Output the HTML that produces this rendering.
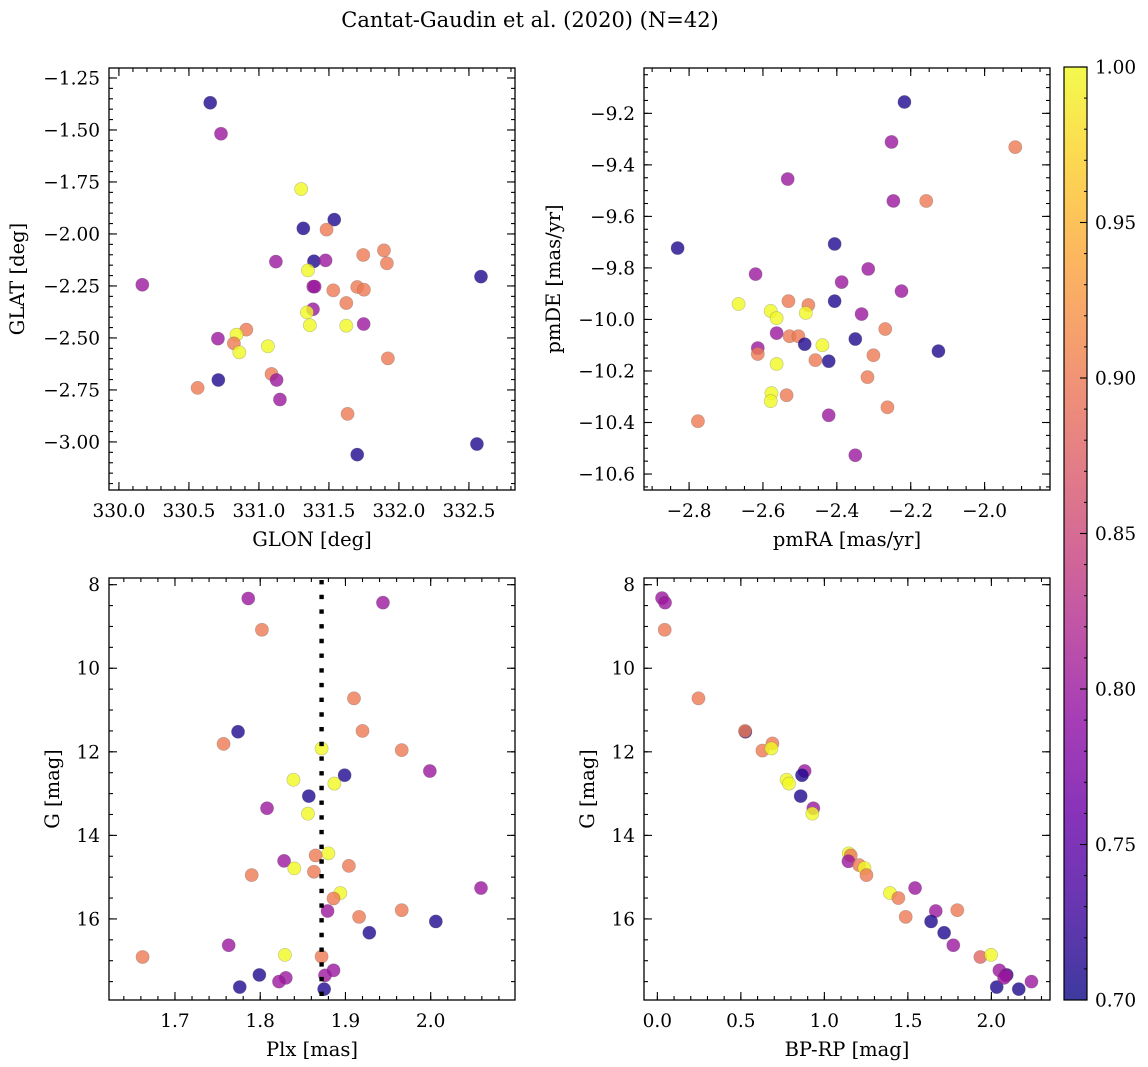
<!DOCTYPE html>
<html><head><meta charset="utf-8">
<style>
html,body{margin:0;padding:0;background:#fff;}
svg{display:block;font-family:"DejaVu Serif","Liberation Serif",serif;}
</style></head>
<body>
<svg id="fig" width="1148" height="1067" viewBox="0 0 1148 1067" xmlns="http://www.w3.org/2000/svg">
<text x="530" y="27" font-size="21" text-anchor="middle">Cantat-Gaudin et al. (2020) (N=42)</text>
</svg>
<script>
// ---- Panel 1: GLON / GLAT ----
const glon = [330.652,330.729,331.302,331.538,331.317,331.483,331.745,331.893,331.914,331.121,331.393,331.476,331.350,330.167,331.388,331.398,331.531,331.702,331.750,331.624,332.586,331.386,331.343,331.364,331.624,331.748,330.910,330.840,330.707,330.821,330.860,331.064,331.921,330.710,330.562,331.090,331.126,331.150,331.633,332.557,331.702];
const glat = [-1.369,-1.518,-1.784,-1.931,-1.973,-1.979,-2.101,-2.079,-2.141,-2.133,-2.131,-2.127,-2.175,-2.244,-2.253,-2.253,-2.271,-2.255,-2.268,-2.332,-2.205,-2.362,-2.377,-2.439,-2.441,-2.433,-2.460,-2.484,-2.503,-2.526,-2.569,-2.540,-2.598,-2.702,-2.740,-2.673,-2.702,-2.796,-2.865,-3.010,-3.061];
const prob1 = [0.71,0.8,1,0.71,0.71,0.9,0.9,0.9,0.9,0.8,0.71,0.8,1,0.8,0.8,0.8,0.9,0.9,0.9,0.9,0.71,0.8,1,1,1,0.8,0.9,1,0.8,0.9,1,1,0.9,0.71,0.9,0.9,0.8,0.8,0.9,0.71,0.71];
// ---- Panel 2: pmRA / pmDE ----
const pmra = [-2.217,-2.252,-1.917,-2.533,-2.247,-2.158,-2.831,-2.406,-2.620,-2.315,-2.387,-2.225,-2.666,-2.531,-2.477,-2.406,-2.579,-2.563,-2.484,-2.333,-2.269,-2.563,-2.528,-2.504,-2.487,-2.439,-2.350,-2.125,-2.614,-2.614,-2.563,-2.458,-2.422,-2.301,-2.317,-2.577,-2.579,-2.536,-2.263,-2.776,-2.422,-2.350];
const pmde = [-9.156,-9.311,-9.331,-9.455,-9.540,-9.540,-9.723,-9.707,-9.824,-9.804,-9.855,-9.890,-9.940,-9.929,-9.944,-9.929,-9.967,-9.995,-9.975,-9.979,-10.037,-10.053,-10.065,-10.065,-10.096,-10.100,-10.076,-10.123,-10.111,-10.134,-10.173,-10.158,-10.162,-10.139,-10.224,-10.286,-10.317,-10.294,-10.341,-10.395,-10.372,-10.527];
const prob2 = [0.71,0.8,0.9,0.8,0.8,0.9,0.71,0.71,0.8,0.8,0.8,0.8,1,0.9,0.9,0.71,1,1,1,0.8,0.9,0.8,0.9,0.9,0.71,1,0.71,0.71,0.8,0.9,1,0.9,0.71,0.9,0.9,1,1,0.9,0.9,0.9,0.8,0.8];
// ---- Panel 3: Plx / G ----
const plx = [1.786,1.944,1.802,1.910,1.920,1.774,1.757,1.872,1.966,1.999,1.899,1.839,1.887,1.857,1.808,1.856,1.880,1.865,1.828,1.840,1.904,1.863,1.790,2.059,1.894,1.886,1.879,1.966,1.916,2.006,1.928,1.763,1.662,1.829,1.872,1.886,1.799,1.830,1.822,1.876,1.776,1.875];
const gmag3 = [8.33,8.43,9.08,10.72,11.50,11.52,11.81,11.92,11.96,12.46,12.56,12.67,12.76,13.06,13.35,13.48,14.43,14.48,14.61,14.79,14.73,14.87,14.95,15.26,15.38,15.51,15.81,15.79,15.95,16.06,16.33,16.63,16.91,16.86,16.90,17.23,17.34,17.41,17.50,17.35,17.63,17.68];
const prob3 = [0.8,0.8,0.9,0.9,0.9,0.71,0.9,1,0.9,0.8,0.71,1,1,0.71,0.8,1,1,0.9,0.8,1,0.9,0.9,0.9,0.8,1,0.9,0.8,0.9,0.9,0.71,0.71,0.8,0.9,1,0.9,0.8,0.71,0.8,0.8,0.8,0.71,0.71];
const plxLine = [1.872];
// ---- Panel 4: BP-RP / G ----
const bprp = [0.028,0.046,0.044,0.246,0.527,0.525,0.629,0.689,0.683,0.882,0.866,0.774,0.788,0.858,0.934,0.928,1.146,1.158,1.144,1.208,1.240,1.252,1.393,1.443,1.543,1.667,1.796,1.487,1.639,1.717,1.772,1.934,1.998,2.048,2.092,2.086,2.240,2.032,2.164,2.076];
const gmag4 = [8.32,8.43,9.08,10.72,11.52,11.50,11.97,11.80,11.92,12.46,12.56,12.67,12.76,13.06,13.35,13.48,14.43,14.48,14.62,14.71,14.78,14.95,15.38,15.50,15.26,15.81,15.79,15.95,16.06,16.33,16.63,16.91,16.86,17.23,17.34,17.35,17.50,17.63,17.68,17.41];
const prob4 = [0.8,0.8,0.9,0.9,0.71,0.9,0.9,0.9,1,0.8,0.71,1,1,0.71,0.8,1,1,0.9,0.8,0.9,1,0.9,1,0.9,0.8,0.8,0.9,0.9,0.71,0.71,0.8,0.88,1,0.8,0.71,0.8,0.8,0.71,0.71,0.8];
// colorbar ticks
const cbTicks = [0.70,0.75,0.80,0.85,0.90,0.95,1.00];

const NS = "http://www.w3.org/2000/svg";
const fig = document.getElementById('fig');
function mk(tag, attrs, parent){const e=document.createElementNS(NS,tag);for(const k in attrs)e.setAttribute(k,attrs[k]);(parent||fig).appendChild(e);return e;}

const stops = [[13,8,135],[65,4,157],[106,0,168],[143,13,164],[177,42,144],[204,71,120],[225,100,98],[242,132,75],[252,166,54],[252,206,37],[240,249,33]];
function plasma(t){t=Math.max(0,Math.min(1,t));const f=t*10,i=Math.min(9,Math.floor(f)),r=f-i;const a=stops[i],b=stops[i+1];return 'rgb('+a.map((v,k)=>Math.round(v+(b[k]-v)*r)).join(',')+')';}
function pcol(p){return plasma((p-0.7)/0.3);}
function fmt(v,d){const s=Math.abs(v).toFixed(d);return (v< -1e-9?'\u2212':'')+s;}
const TFS=18.5, LFS=19.5;

function panel(cfg){
  const {name,x0,x1,y0,y1,xmin,xmax,ytop,ybot}=cfg;
  const sx=v=>x0+(v-xmin)/(xmax-xmin)*(x1-x0);
  const sy=v=>y0+(v-ytop)/(ybot-ytop)*(y1-y0);
  const g=mk('g',{});
  
  
  const pts=mk('g',{},g);
  
  
  cfg.xs.forEach((xv,i)=>{
    const c=mk('circle',{cx:sx(xv),cy:sy(cfg.ys[i]),r:6.6,fill:pcol(cfg.ps[i]),'fill-opacity':0.8,stroke:'#555','stroke-opacity':0.35,'stroke-width':0.6},pts);
    
    
  });
  if(cfg.vline){cfg.vline.forEach(v=>{
    const l=mk('line',{x1:sx(v),x2:sx(v),y1:y0+2,y2:y1,stroke:'#000','stroke-width':4.4,'stroke-dasharray':'4.4,10.3'},g);
    
    
  });}
  const fr=mk('rect',{x:x0,y:y0,width:x1-x0,height:y1-y0,fill:'none',stroke:'#000','stroke-width':1.3},g);
  
  
  const tk=mk('g',{stroke:'#000','stroke-width':1.1},g);
  
  
  function ticks(lo,hi,step){const a=[];const s=Math.ceil(Math.min(lo,hi)/step-1e-6);for(let k=s;k*step<=Math.max(lo,hi)+1e-9;k++)a.push(+(k*step).toFixed(6));return a;}
  ticks(xmin,xmax,cfg.xminor).forEach(v=>{const X=sx(v);mk('line',{x1:X,x2:X,y1:y1,y2:y1-4},tk);mk('line',{x1:X,x2:X,y1:y0,y2:y0+4},tk);});
  ticks(Math.min(ytop,ybot),Math.max(ytop,ybot),cfg.yminor).forEach(v=>{const Y=sy(v);mk('line',{x1:x0,x2:x0+4,y1:Y,y2:Y},tk);mk('line',{x1:x1,x2:x1-4,y1:Y,y2:Y},tk);});
  ticks(xmin,xmax,cfg.xmajor).forEach(v=>{const X=sx(v);mk('line',{x1:X,x2:X,y1:y1,y2:y1-8},tk);mk('line',{x1:X,x2:X,y1:y0,y2:y0+8},tk);
    const t=mk('text',{x:X,y:y1+27,'font-size':TFS,'text-anchor':'middle',stroke:'none'},g);t.textContent=fmt(v,cfg.xdec);
    
    });
  ticks(Math.min(ytop,ybot),Math.max(ytop,ybot),cfg.ymajor).forEach(v=>{const Y=sy(v);mk('line',{x1:x0,x2:x0+8,y1:Y,y2:Y},tk);mk('line',{x1:x1,x2:x1-8,y1:Y,y2:Y},tk);
    const t=mk('text',{x:x0-9,y:Y+6.5,'font-size':TFS,'text-anchor':'end'},g);t.textContent=fmt(v,cfg.ydec);
    
    });
  const xl=mk('text',{x:(x0+x1)/2,y:y1+56,'font-size':LFS,'text-anchor':'middle'},g);xl.textContent=cfg.xlabel;
  
  
  const yl=mk('text',{x:0,y:0,'font-size':LFS,'text-anchor':'middle',transform:'translate('+cfg.ylx+','+(y0+y1)/2+') rotate(-90)'},g);yl.textContent=cfg.ylabel;
  
  
}

panel({name:'position',x0:109,x1:515,y0:68,y1:490,xmin:329.929,xmax:332.829,ytop:-1.202,ybot:-3.231,xs:glon,ys:glat,ps:prob1,xmajor:0.5,xminor:0.1,ymajor:0.25,yminor:0.05,xdec:1,ydec:2,xlabel:'GLON [deg]',ylabel:'GLAT [deg]',ylx:24});
panel({name:'proper-motion',x0:644,x1:1050,y0:68,y1:490,xmin:-2.922,xmax:-1.823,ytop:-9.024,ybot:-10.662,xs:pmra,ys:pmde,ps:prob2,xmajor:0.2,xminor:0.05,ymajor:0.2,yminor:0.05,xdec:1,ydec:1,xlabel:'pmRA [mas/yr]',ylabel:'pmDE [mas/yr]',ylx:560});
panel({name:'parallax',x0:109,x1:515,y0:578,y1:1000,xmin:1.6226,xmax:2.0989,ytop:7.84,ybot:17.94,xs:plx,ys:gmag3,ps:prob3,vline:plxLine,xmajor:0.1,xminor:0.02,ymajor:2,yminor:0.5,xdec:1,ydec:0,xlabel:'Plx [mas]',ylabel:'G [mag]',ylx:59});
panel({name:'cmd',x0:644,x1:1050,y0:578,y1:1000,xmin:-0.080,xmax:2.351,ytop:7.84,ybot:17.94,xs:bprp,ys:gmag4,ps:prob4,xmajor:0.5,xminor:0.1,ymajor:2,yminor:0.5,xdec:1,ydec:0,xlabel:'BP-RP [mag]',ylabel:'G [mag]',ylx:594});

const cb={x0:1064,x1:1087,y0:67,y1:1000,vmin:0.7,vmax:1.0};
const defs=mk('defs',{});
const lg=mk('linearGradient',{id:'cbg',x1:0,y1:1,x2:0,y2:0},defs);
for(let i=0;i<=20;i++){mk('stop',{offset:(i/20),'stop-color':plasma(i/20),'stop-opacity':0.8},lg);}
const cbg=mk('g',{});


mk('rect',{x:cb.x0,y:cb.y0,width:cb.x1-cb.x0,height:cb.y1-cb.y0,fill:'url(#cbg)',stroke:'#000','stroke-width':1.2},cbg);
const cy=v=>cb.y1-(v-cb.vmin)/(cb.vmax-cb.vmin)*(cb.y1-cb.y0);
for(let k=70;k<=100;k++){const Y=cy(k/100);mk('line',{x1:cb.x1,x2:cb.x1-3,y1:Y,y2:Y,stroke:'#000','stroke-width':1},cbg);}
cbTicks.forEach(v=>{const Y=cy(v);mk('line',{x1:cb.x1,x2:cb.x1-7,y1:Y,y2:Y,stroke:'#000','stroke-width':1.1},cbg);
  const t=mk('text',{x:cb.x1+8,y:Y+6.5,'font-size':TFS},cbg);t.textContent=v.toFixed(2);
  
  });
</script>
</body></html>
